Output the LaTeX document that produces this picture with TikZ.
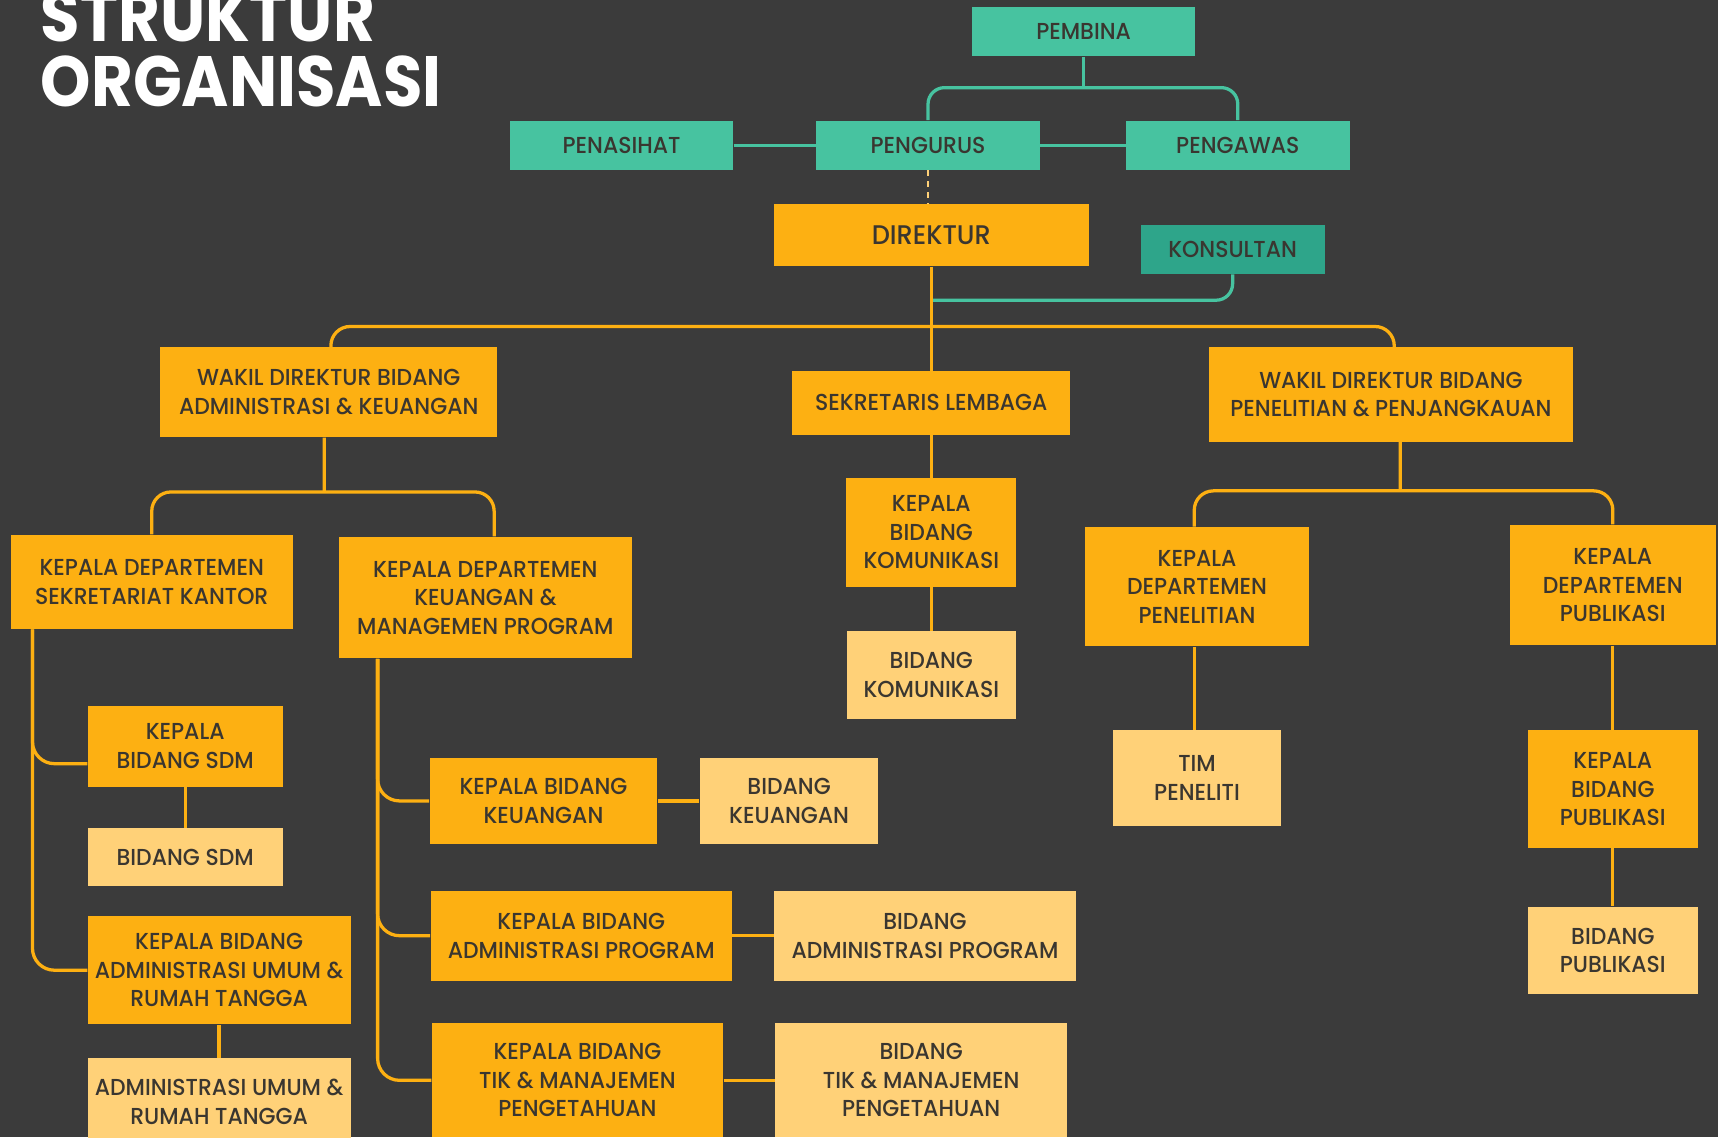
\documentclass[tikz,border=0pt]{standalone}
\usepackage{fontspec}
\setmainfont{Poppins Medium}[FakeStretch=0.95]
\newfontfamily\titlefont{Poppins}[FakeStretch=0.9]
\usetikzlibrary{positioning}
\definecolor{bgdark}{HTML}{3B3B3B}
\definecolor{tealbox}{HTML}{47C3A0}
\definecolor{tealdark}{HTML}{2EA58A}
\definecolor{orangebox}{HTML}{FDB012}
\definecolor{lightbox}{HTML}{FFD178}
\definecolor{inktext}{HTML}{3A3630}

\begin{document}
\begin{tikzpicture}[
        x=0.2mm, y=-0.2mm,
        every node/.style={font=\fontsize{12}{14.8}\selectfont, text=inktext},
        box/.style={rectangle, inner sep=0pt, align=center},
        govbox/.style={box, fill=tealbox, minimum width=40.8mm, minimum height=9mm},
        headbox/.style={box, fill=orangebox},
        unitbox/.style={box, fill=lightbox},
        titletext/.style={font=\titlefont\fontsize{37}{40}\selectfont\bfseries, text=white, inner sep=0pt},
        tealline/.style={draw=tealbox, line width=1.7pt},
        orangeline/.style={draw=orangebox, line width=1.7pt},
        dashline/.style={draw=lightbox, line width=1.2pt, dash pattern=on 1mm off 1mm}
    ]
        \useasboundingbox (0,0) rectangle (1568,1038);
        \clip (0,0) rectangle (1568,1038);
        \fill[bgdark] (0,0) rectangle (1568,1038);

        \node[titletext, anchor=base west] (title1) at (37,38) {STRUKTUR};
        \node[titletext, anchor=base west] (title2) at (37,97) {ORGANISASI};

        % Governance
        \node[govbox] (pembina) at (989,29) {PEMBINA};
        \node[govbox] (pengurus) at (847,132.5) {PENGURUS};
        \node[govbox, left=15mm of pengurus] (penasihat) {PENASIHAT};
        \node[govbox, right=15.6mm of pengurus] (pengawas) {PENGAWAS};

        % Direktur
        \node[headbox, minimum width=57.6mm, minimum height=11.4mm, font=\fontsize{14}{17}\selectfont] (direktur) at (850,214.5) {DIREKTUR};
        \node[box, fill=tealdark, minimum width=33.6mm, minimum height=9mm] (konsultan) at (1125,227.5) {KONSULTAN};

        % Second level
        \node[headbox, minimum width=61.6mm, minimum height=16.4mm] (wakiladm) at (300,358) {WAKIL DIREKTUR BIDANG\\ADMINISTRASI \& KEUANGAN};
        \node[headbox, minimum width=50.8mm, minimum height=11.6mm, below=19mm of direktur] (sekretaris) {SEKRETARIS LEMBAGA};
        \node[headbox, minimum width=66.6mm, minimum height=17.2mm] (wakilpen) at (1269.5,360) {WAKIL DIREKTUR BIDANG\\PENELITIAN \& PENJANGKAUAN};

        % Administrasi branch
        \node[headbox, minimum width=51.4mm, minimum height=17.2mm] (kdsek) at (138.5,531) {KEPALA DEPARTEMEN\\SEKRETARIAT KANTOR};
        \node[headbox, minimum width=53.6mm, minimum height=22.2mm] (kdkeu) at (443,545.5) {KEPALA DEPARTEMEN\\KEUANGAN \&\\MANAGEMEN PROGRAM};
        \node[headbox, minimum width=35.6mm, minimum height=14.8mm] (kbsdm) at (169,681) {KEPALA\\BIDANG SDM};
        \node[unitbox, minimum width=35.6mm, minimum height=10.6mm, below=7.4mm of kbsdm] (bsdm) {BIDANG SDM};
        \node[headbox, minimum width=48mm, minimum height=19.8mm] (kbadmu) at (200,885.5) {KEPALA BIDANG\\ADMINISTRASI UMUM \&\\RUMAH TANGGA};
        \node[unitbox, minimum width=48mm, minimum height=16mm, below=6mm of kbadmu] (admu) {ADMINISTRASI UMUM \&\\RUMAH TANGGA};
        \node[headbox, minimum width=41.6mm, minimum height=15.6mm] (kbkeu) at (496,731) {KEPALA BIDANG\\KEUANGAN};
        \node[unitbox, minimum width=32.6mm, minimum height=15.6mm, right=7.6mm of kbkeu] (bkeu) {BIDANG\\KEUANGAN};
        \node[headbox, minimum width=55mm, minimum height=16.4mm] (kbap) at (530.5,854) {KEPALA BIDANG\\ADMINISTRASI PROGRAM};
        \node[unitbox, minimum width=55mm, minimum height=16.4mm, right=7.6mm of kbap] (bap) {BIDANG\\ADMINISTRASI PROGRAM};
        \node[headbox, minimum width=53.2mm, minimum height=20.8mm] (kbtik) at (527,986) {KEPALA BIDANG\\TIK \& MANAJEMEN\\PENGETAHUAN};
        \node[unitbox, minimum width=53.2mm, minimum height=20.8mm, right=9.4mm of kbtik] (btik) {BIDANG\\TIK \& MANAJEMEN\\PENGETAHUAN};

        % Sekretaris branch
        \node[headbox, minimum width=31mm, minimum height=19.8mm, below=7.8mm of sekretaris] (kbkom) {KEPALA\\BIDANG\\KOMUNIKASI};
        \node[unitbox, minimum width=30.8mm, minimum height=16mm, below=8mm of kbkom] (bkom) {BIDANG\\KOMUNIKASI};

        % Penelitian branch
        \node[headbox, minimum width=41mm, minimum height=21.8mm] (kdpen) at (1092.5,535.5) {KEPALA\\DEPARTEMEN\\PENELITIAN};
        \node[unitbox, minimum width=30.8mm, minimum height=17.4mm, below=15.2mm of kdpen] (tim) {TIM\\PENELITI};
        \node[headbox, minimum width=37.6mm, minimum height=22mm] (kdpub) at (1472,534) {KEPALA\\DEPARTEMEN\\PUBLIKASI};
        \node[headbox, minimum width=31mm, minimum height=21.4mm, below=15.4mm of kdpub] (kbpub) {KEPALA\\BIDANG\\PUBLIKASI};
        \node[unitbox, minimum width=31mm, minimum height=16mm, below=10.6mm of kbpub] (bpub) {BIDANG\\PUBLIKASI};

        % Governance lines
        \coordinate (govbus) at (989,80);
        \coordinate (konsbus) at (850,274);
        \draw[tealline] (pembina) -- (govbus);
        \draw[tealline, rounded corners=3mm] (pengurus.north) |- (govbus) -| (pengawas.north);
        \draw[tealline] (penasihat) -- (pengurus);
        \draw[tealline] (pengurus) -- (pengawas);
        \draw[dashline] (pengurus.south) -- (pengurus.south |- direktur.north);
        \draw[tealline, rounded corners=3mm] (konsbus) -| (konsultan.south);

        % Direktur lines
        \coordinate (wakilbus) at (850,298);
        \draw[orangeline] (direktur.south) -- (direktur.south |- sekretaris.north);
        \draw[orangeline, rounded corners=3.5mm] ([xshift=0.4mm]wakiladm.north) |- (wakilbus) -| ([xshift=0.6mm]wakilpen.north);

        % Administrasi lines
        \coordinate (admbus) at (296,449);
        \draw[orangeline] ([xshift=-0.8mm]wakiladm.south) -- (admbus);
        \draw[orangeline, rounded corners=3.5mm] (kdsek.north) |- (admbus) -| ([xshift=1.6mm]kdkeu.north);
        \draw[orangeline, rounded corners=4mm] ([xshift=4mm]kdsek.south west) |- ([yshift=-3.2mm]kbsdm.west);
        \draw[orangeline, rounded corners=4mm] ([xshift=4mm]kdsek.south west) |- (kbadmu.west);
        \draw[orangeline] (kbsdm) -- (bsdm);
        \draw[orangeline] (kbadmu) -- (admu);
        \draw[orangeline, rounded corners=4mm] ([xshift=7.2mm]kdkeu.south west) |- (kbkeu.west);
        \draw[orangeline, rounded corners=4mm] ([xshift=7.2mm]kdkeu.south west) |- (kbap.west);
        \draw[orangeline, rounded corners=4mm] ([xshift=7.2mm]kdkeu.south west) |- (kbtik.west);
        \draw[orangeline] (kbkeu) -- (bkeu);
        \draw[orangeline] (kbap) -- (bap);
        \draw[orangeline] (kbtik) -- (btik);

        % Sekretaris lines
        \draw[orangeline] (sekretaris) -- (kbkom);
        \draw[orangeline] (kbkom) -- (bkom);

        % Penelitian lines
        \coordinate (penbus) at (1278,448);
        \draw[orangeline] ([xshift=1.7mm]wakilpen.south) -- (penbus);
        \draw[orangeline, rounded corners=3.5mm] ([xshift=-0.5mm]kdpen.north) |- (penbus) -| (kdpub.north);
        \draw[orangeline] ([xshift=-0.5mm]kdpen.south) -- ([xshift=-0.5mm]kdpen.south |- tim.north);
        \draw[orangeline] (kdpub.south) -- (kdpub.south |- kbpub.north);
        \draw[orangeline] (kbpub) -- (bpub);
    \end{tikzpicture}
\end{document}
